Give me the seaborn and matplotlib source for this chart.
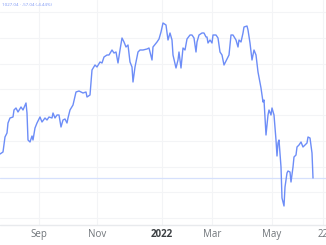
import matplotlib
matplotlib.use("Agg")
import matplotlib.pyplot as plt
import seaborn as sns
import pandas as pd

# session index and closing value (arbitrary price units)
sessions = [0, 3, 5, 7, 8, 10, 13, 14, 16, 18, 21, 23, 26, 27, 28, 30, 32, 33, 35, 37,
            40, 42, 45, 47, 49, 52, 53, 55, 57, 59, 61, 63, 65, 67, 68, 70, 73, 76, 79, 83,
            86, 87, 90, 92, 95, 97, 100, 102, 104, 107, 109, 112, 114, 116, 118, 120, 122, 124, 126, 128,
            130, 132, 133, 135, 137, 138, 140, 143, 147, 149, 152, 153, 157, 159, 161, 163, 166, 168, 170, 172,
            173, 176, 178, 179, 181, 183, 185, 187, 190, 192, 194, 196, 197, 199, 202, 204, 206, 207, 208, 210,
            212, 213, 216, 218, 220, 222, 224, 227, 229, 231, 233, 236, 238, 239, 241, 243, 244, 247, 248, 250,
            252, 254, 256, 258, 261, 263, 264, 266, 268, 269, 271, 272, 274, 276, 277, 278, 279, 281, 282, 284,
            285, 287, 288, 290, 291, 293, 294, 296, 297, 299, 301, 303, 305, 307, 308, 310, 312, 313]
close = [271, 273, 288, 292, 302, 307, 308, 315, 317, 313, 318, 315, 322, 312, 285, 283, 289, 285, 297, 302,
         308, 303, 307, 305, 308, 307, 312, 307, 310, 310, 298, 305, 306, 302, 307, 315, 320, 333, 334, 332,
         333, 328, 330, 355, 360, 358, 363, 362, 368, 370, 370, 375, 372, 373, 362, 375, 387, 383, 378, 380,
         363, 358, 343, 358, 368, 373, 375, 375, 376, 377, 365, 378, 383, 386, 393, 402, 400, 385, 392, 385,
         370, 357, 365, 373, 357, 377, 375, 386, 390, 390, 387, 373, 383, 390, 392, 392, 388, 388, 382, 385,
         382, 390, 390, 387, 373, 370, 360, 366, 370, 390, 390, 385, 378, 385, 383, 392, 398, 399, 395, 382,
         365, 375, 370, 353, 337, 323, 325, 290, 310, 315, 310, 317, 310, 285, 269, 282, 285, 258, 227, 219,
         238, 252, 254, 253, 243, 258, 268, 270, 278, 280, 283, 278, 280, 282, 288, 287, 272, 247]

previous_close = 247
grid_levels = [207, 233, 258, 284, 310, 336, 361, 387, 413, 438]
tick_positions = [39, 97, 162, 212, 272, 323]
tick_labels = ["Sep", "Nov", "2022", "Mar", "May", "22"]
header_text = "1027.04 \u00b7 -57.04 (-4.44%)"

df = pd.DataFrame({"session": sessions, "close": close})

sns.set_style("white")
plt.rcParams["font.family"] = ["Open Sans", "DejaVu Sans"]

fig = plt.figure(figsize=(3.26, 2.45), dpi=100)
ax = fig.add_axes([0, 20 / 245, 1, 225 / 245])

for lv in grid_levels:
    ax.axhline(lv, color="#f3f4f6", lw=0.8, zorder=0)
for tp in tick_positions:
    ax.axvline(tp, color="#f3f4f6", lw=0.8, zorder=0)
ax.axhline(previous_close, color="#d6e0fc", lw=0.9, zorder=1)

sns.lineplot(data=df, x="session", y="close", ax=ax, color="#6d8df7", lw=1.0, zorder=3)

ax.set_xlim(0, 326)
ax.set_ylim(425 - 225, 425)
for s in ax.spines.values():
    s.set_visible(False)
ax.axhline(425 - 225, color="#e8eaed", lw=1.0, zorder=2, clip_on=False)
ax.set_xlabel("")
ax.set_ylabel("")
ax.set_yticks([])
ax.set_xticks(tick_positions)
ax.set_xticklabels(tick_labels)
ax.tick_params(axis="x", length=0, pad=3, labelsize=7, labelcolor="#70757a")
for lab in ax.get_xticklabels():
    if lab.get_text() == "2022":
        lab.set_fontweight("bold")
        lab.set_color("#3c4043")

ax.text(2, 422, header_text, fontsize=3.2, color="#7b96f5", va="top", ha="left")

fig.savefig("out.png", dpi=100)
